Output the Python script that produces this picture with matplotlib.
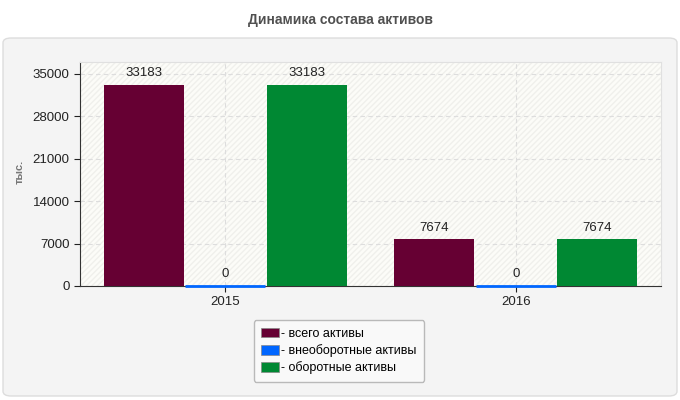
import matplotlib.pyplot as plt
import numpy as np
from matplotlib.patches import FancyBboxPatch, Rectangle

plt.rcParams['font.family'] = ['Liberation Sans', 'DejaVu Sans']

years = ['2015', '2016']
series_names = ['- всего активы', '- внеоборотные активы', '- оборотные активы']
total_assets = [33183, 7674]
noncurrent_assets = [0, 0]
current_assets = [33183, 7674]
colors = ['#660033', '#0066ff', '#008833']

y_ticks = [0, 7000, 14000, 21000, 28000, 35000]

fig = plt.figure(figsize=(6.8, 4.0), dpi=100)
fig.patch.set_facecolor('white')

# grey panel behind the chart
panel = FancyBboxPatch((3 / 680, 4 / 400), 674 / 680, 358 / 400,
                       boxstyle='round,pad=0,rounding_size=0.012',
                       transform=fig.transFigure, facecolor='#f4f4f4',
                       edgecolor='#dddddd', linewidth=1, zorder=-5)
fig.patches.append(panel)

fig.text(0.5, 1 - 20 / 400, 'Динамика состава активов', ha='center', va='center',
         fontsize=10, fontweight='bold', color='#505050')

ax = fig.add_axes([80 / 680, 114 / 400, 581 / 680, 224 / 400])
ax.set_facecolor('#fcfcf8')
ax.add_patch(Rectangle((0, 0), 1, 1, transform=ax.transAxes, facecolor='none',
                       edgecolor='#f0f0ec', hatch='//////', linewidth=0, zorder=0))

x = np.arange(len(years))
width = 0.275
offsets = [-0.28, 0, 0.28]
all_series = [total_assets, noncurrent_assets, current_assets]

for off, vals, col, name in zip(offsets, all_series, colors, series_names):
    bars = ax.bar(x + off, vals, width=width, color=col, edgecolor=col,
                  linewidth=2 if max(vals) == 0 else 0, label=name, zorder=4,
                  clip_on=False)
    for b, v in zip(bars, vals):
        ax.annotate(str(v), (b.get_x() + b.get_width() / 2, v), xytext=(0, 4),
                    textcoords='offset points', ha='center', va='bottom',
                    fontsize=9.5, color='#222222', zorder=5)

ax.set_xlim(-0.5, 1.5)
ax.set_ylim(0, 36900)
ax.set_xticks(x)
ax.set_xticklabels(years)
ax.set_yticks(y_ticks)
ax.tick_params(labelsize=9.5, colors='#222222', length=4)
ax.grid(True, linestyle=(0, (4, 3)), color='#dddddd', linewidth=0.8, zorder=1)
ax.set_axisbelow(True)

for side in ['top', 'right']:
    ax.spines[side].set_color('#e0e0e0')
ax.spines['left'].set_color('#333333')
ax.spines['bottom'].set_color('#333333')

fig.text(20 / 680, 1 - 172 / 400, 'тыс.', rotation=90, ha='center', va='center',
         fontsize=8, fontweight='bold', color='#777777')

leg = fig.legend(loc='center', bbox_to_anchor=(339 / 680, 1 - 351 / 400),
                 fontsize=9, frameon=True, handlelength=1.4, handleheight=0.8,
                 handletextpad=0.2, borderpad=0.6, labelspacing=0.35, fancybox=True)
leg.get_frame().set_facecolor('#fbfbfb')
leg.get_frame().set_edgecolor('#aaaaaa')
for h in leg.legend_handles:
    h.set_edgecolor('#888888')
    h.set_linewidth(0.5)

fig.savefig('out.png', dpi=100, facecolor=fig.get_facecolor())
